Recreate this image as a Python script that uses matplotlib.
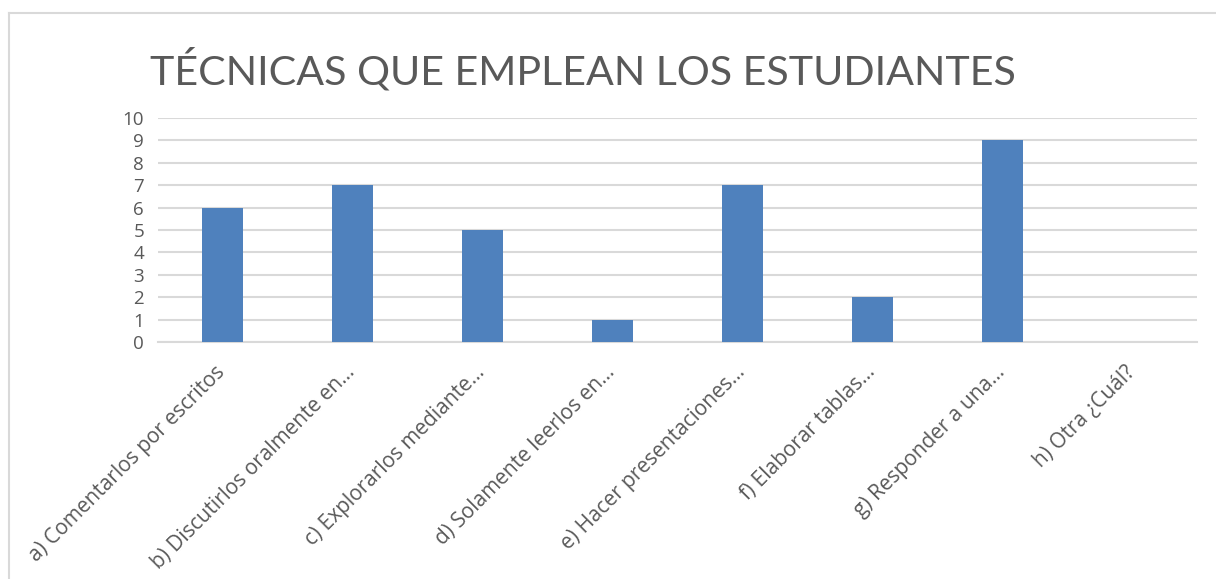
import matplotlib
matplotlib.use("Agg")
import matplotlib.pyplot as plt
from matplotlib.lines import Line2D
from matplotlib.transforms import ScaledTranslation

categories = [
    "a) Comentarlos por escritos",
    "b) Discutirlos oralmente en...",
    "c) Explorarlos mediante...",
    "d) Solamente leerlos en...",
    "e) Hacer presentaciones...",
    "f) Elaborar tablas...",
    "g) Responder a una...",
    "h) Otra ¿Cuál?",
]
values = [6, 7, 5, 1, 7, 2, 9, 0]
yticks = list(range(0, 11))
title = "TÉCNICAS QUE EMPLEAN LOS ESTUDIANTES"

W, H = 1216, 579
fig = plt.figure(figsize=(W / 100, H / 100), dpi=100)
fig.patch.set_facecolor("white")

ax = fig.add_axes([158 / W, 1 - 342 / H, (1197 - 158) / W, (342 - 118) / H])
x = list(range(len(categories)))
ax.bar(x, values, width=0.315, color="#4f81bd", zorder=3)
ax.set_xlim(-0.5, len(categories) - 0.5)
ax.set_ylim(0, 10)
ax.set_yticks(yticks)
ax.yaxis.grid(True, color="#d9d9d9", linewidth=1.5, zorder=0)
for s in ["top", "right", "left"]:
    ax.spines[s].set_visible(False)
ax.spines["bottom"].set_color("#d9d9d9")
ax.spines["bottom"].set_linewidth(1.5)
ax.tick_params(axis="y", length=0, colors="#595959", labelsize=13.5, pad=10)
ax.tick_params(axis="x", length=0, colors="#595959", labelsize=15, pad=10)
ax.set_xticks(x)
ax.set_xticklabels(categories, rotation=45, ha="right", va="top",
                   rotation_mode="anchor", fontfamily="Open Sans", color="#595959")
offset = ScaledTranslation(-8 / 100, -6 / 100, fig.dpi_scale_trans)
for lab in ax.get_xticklabels():
    lab.set_transform(lab.get_transform() + offset)
for lab in ax.get_yticklabels():
    lab.set_fontfamily("Open Sans")

fig.text(583 / W, 1 - 70 / H, title, ha="center", va="center",
         fontsize=29.6, fontfamily="Lato", color="#595959")

# outer chart border (partially visible)
fig.add_artist(Line2D([9 / W, 1.0], [1 - 13 / H, 1 - 13 / H], color="#d9d9d9", linewidth=1.5, transform=fig.transFigure))
fig.add_artist(Line2D([9 / W, 9 / W], [0, 1 - 13 / H], color="#d9d9d9", linewidth=1.5, transform=fig.transFigure))

fig.savefig("out.png", dpi=100)
